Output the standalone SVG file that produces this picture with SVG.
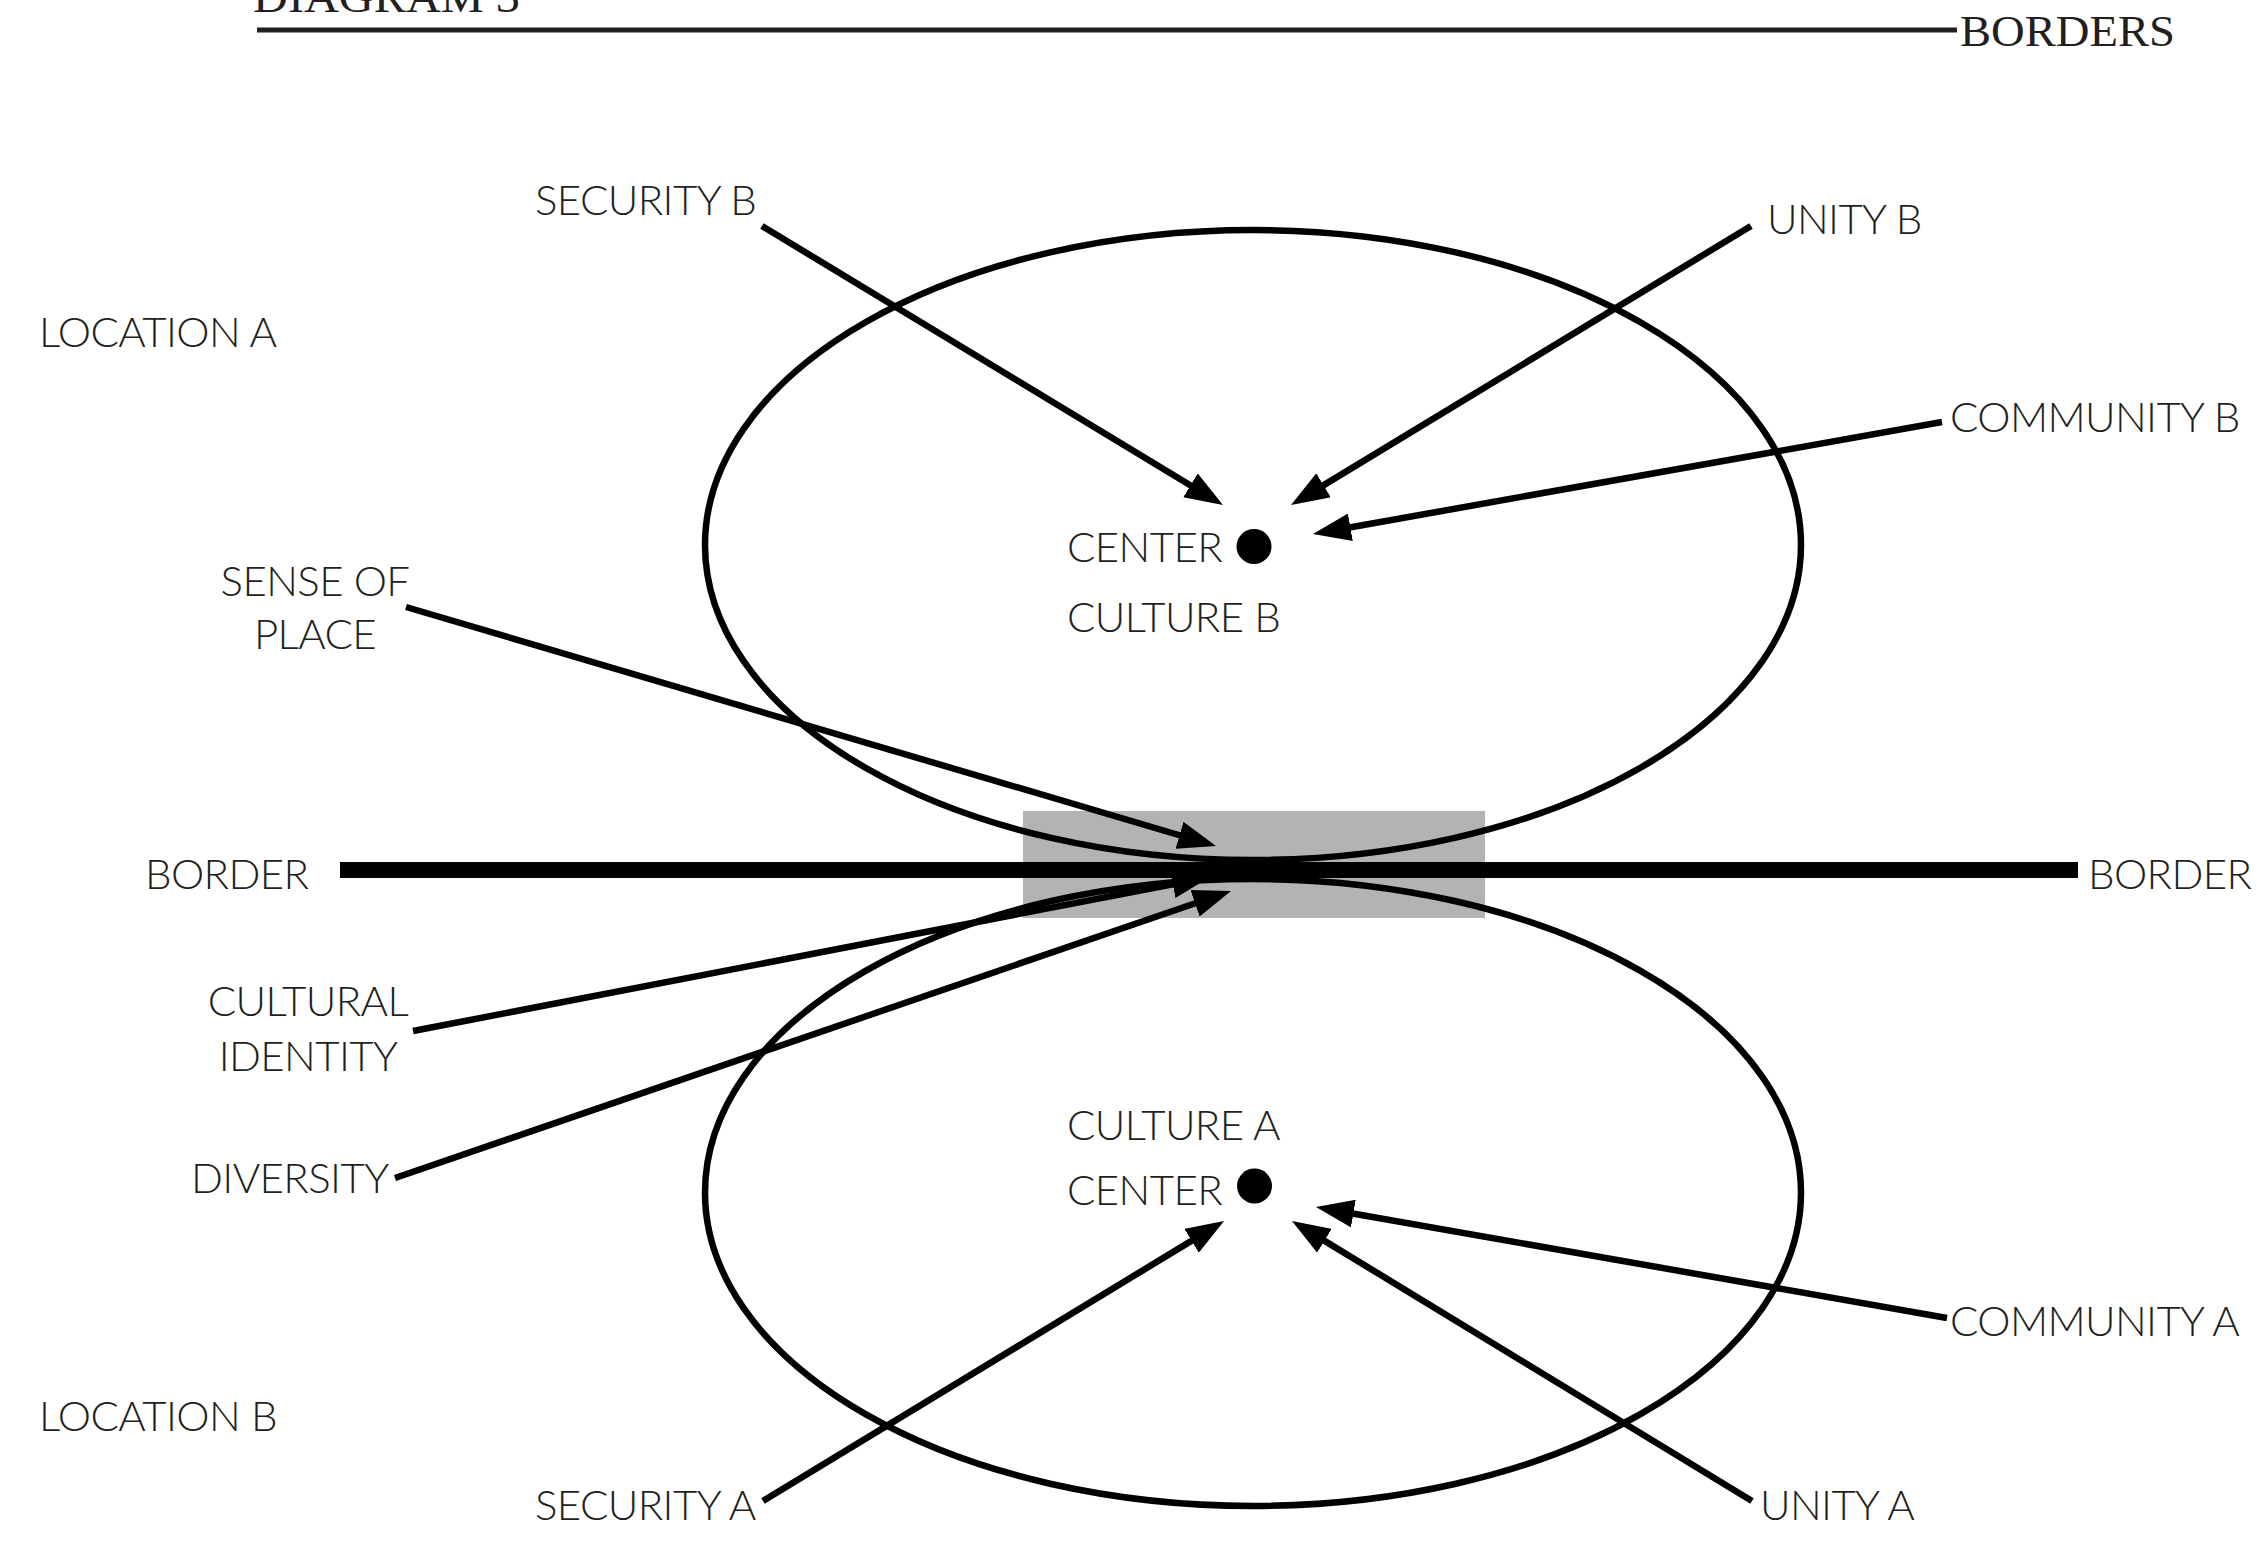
<svg xmlns="http://www.w3.org/2000/svg" width="2267" height="1545" viewBox="0 0 2267 1545">
<style>
  .lbl { font-family: Lato, "Open Sans", sans-serif; font-weight: 300; font-size: 42px; letter-spacing: -0.6px; fill: #231f20; }
  .ser { font-family: "Liberation Serif", serif; font-size: 45px; fill: #231f20; }
  .ell { fill: none; stroke: #000; stroke-width: 6.5; }
  .arr { stroke: #000; stroke-width: 6.5; fill: none; marker-end: url(#head); }
</style>
<defs>
  <marker id="head" viewBox="0 0 38 28" markerWidth="38" markerHeight="28" refX="8" refY="14" orient="auto" markerUnits="userSpaceOnUse">
    <path d="M0,0 L38,14 L0,28 z" fill="#000"/>
  </marker>
</defs>
<rect width="2267" height="1545" fill="#fff"/>

<g id="header">
  <text class="ser" x="253" y="12" textLength="267" lengthAdjust="spacingAndGlyphs" font-size="46">DIAGRAM 3</text>
  <line x1="257" y1="30" x2="1957" y2="30" stroke="#231f20" stroke-width="5"/>
  <text class="ser" x="1960" y="46" textLength="215" lengthAdjust="spacingAndGlyphs">BORDERS</text>
</g>

<g id="border-zone">
  <rect x="1023" y="811" width="462" height="107" fill="#b3b3b3"/>
</g>

<g id="culture-b">
  <ellipse class="ell" cx="1253" cy="545" rx="548" ry="315"/>
  <circle cx="1254" cy="546.5" r="17.5" fill="#000"/>
  <text class="lbl" x="1067" y="562">CENTER</text>
  <text class="lbl" x="1067" y="632">CULTURE B</text>
</g>

<g id="culture-a">
  <ellipse class="ell" cx="1253" cy="1192.5" rx="548" ry="313.5"/>
  <circle cx="1254.5" cy="1186" r="17.5" fill="#000"/>
  <text class="lbl" x="1067" y="1140">CULTURE A</text>
  <text class="lbl" x="1067" y="1205">CENTER</text>
</g>

<g id="border">
  <line x1="340" y1="870" x2="2078" y2="870" stroke="#000" stroke-width="16"/>
  <text class="lbl" x="145" y="889">BORDER</text>
  <text class="lbl" x="2088" y="889">BORDER</text>
</g>

<g id="labels">
  <text class="lbl" x="39" y="347">LOCATION A</text>
  <text class="lbl" x="39" y="1431">LOCATION B</text>
  <text class="lbl" x="535" y="215">SECURITY B</text>
  <text class="lbl" x="1767" y="234">UNITY B</text>
  <text class="lbl" x="1950" y="432">COMMUNITY B</text>
  <text class="lbl" x="315" y="596" text-anchor="middle">SENSE OF</text>
  <text class="lbl" x="315" y="649" text-anchor="middle">PLACE</text>
  <text class="lbl" x="308" y="1016" text-anchor="middle">CULTURAL</text>
  <text class="lbl" x="308" y="1071" text-anchor="middle">IDENTITY</text>
  <text class="lbl" x="191" y="1193">DIVERSITY</text>
  <text class="lbl" x="1950" y="1336">COMMUNITY A</text>
  <text class="lbl" x="535" y="1520">SECURITY A</text>
  <text class="lbl" x="1760" y="1520">UNITY A</text>
</g>

<g id="connectors">
  <line class="arr" x1="762" y1="226" x2="1197.3" y2="489.5"/>
  <line class="arr" x1="1751" y1="226" x2="1316.7" y2="489.4"/>
  <line class="arr" x1="1942" y1="422" x2="1342.5" y2="528.7"/>
  <line class="arr" x1="406" y1="607" x2="1187.2" y2="837.5"/>
  <line class="arr" x1="413" y1="1031" x2="1180.6" y2="882.7"/>
  <line class="arr" x1="395" y1="1178" x2="1202.6" y2="900.7"/>
  <line class="arr" x1="763" y1="1501" x2="1198.4" y2="1236.6"/>
  <line class="arr" x1="1752" y1="1501" x2="1317.6" y2="1236.6"/>
  <line class="arr" x1="1947" y1="1318" x2="1345.5" y2="1212.2"/>
</g>
</svg>
